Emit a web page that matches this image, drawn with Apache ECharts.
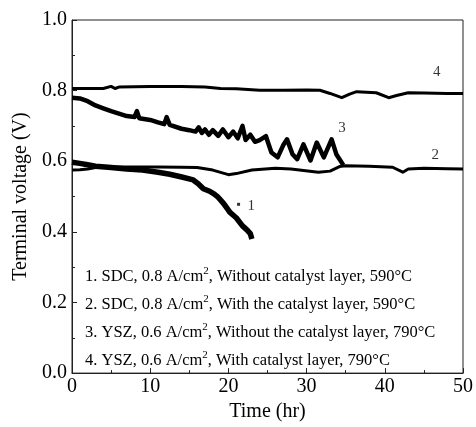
<!DOCTYPE html>
<html>
<head>
<meta charset="utf-8">
<script src="https://cdn.jsdelivr.net/npm/echarts@6/dist/echarts.min.js"></script>
<style>
html,body{margin:0;padding:0;background:#fff;}
#c{width:476px;height:427px;}
</style>
</head>
<body>
<div id="c"></div>
<script>
// Curve 1: SDC, 0.8 A/cm2, without catalyst layer, 590°C  [time (hr), voltage (V)]
var curve1 = [[0,0.597],[1,0.594],[2,0.590],[3,0.586],[5,0.582],[7,0.578],[9,0.575],[11,0.569],[12.5,0.563],[13.9,0.556],[15.5,0.547],[16.2,0.535],[16.8,0.522],[17.6,0.515],[18.2,0.507],[18.6,0.500],[19.4,0.480],[20.2,0.455],[21.0,0.440],[21.8,0.417],[22.4,0.405],[22.8,0.395],[23.0,0.380]];
var curve1Outlier = [[21.3,0.478]];
// Curve 2: SDC, 0.8 A/cm2, with the catalyst layer, 590°C
var curve2 = [[0,0.575],[1,0.576],[2,0.578],[3,0.582],[5,0.584],[8,0.584],[11,0.584],[14,0.583],[16,0.582],[18,0.575],[20,0.562],[21,0.565],[23,0.575],[26,0.580],[28,0.578],[31.5,0.569],[33,0.572],[34.2,0.585],[35,0.587],[38,0.586],[41,0.583],[42.3,0.569],[43,0.578],[45,0.580],[48,0.579],[50,0.578]];
// Curve 3: YSZ, 0.6 A/cm2, without the catalyst layer, 790°C
var curve3 = [[0,0.780],[1,0.778],[2,0.770],[3,0.758],[4,0.750],[5,0.742],[6,0.735],[7,0.728],[8,0.725],[8.3,0.742],[8.6,0.722],[10,0.717],[11,0.710],[11.8,0.705],[12.1,0.725],[12.5,0.703],[14,0.692],[15,0.688],[15.8,0.684],[16.2,0.696],[16.6,0.680],[17,0.690],[17.5,0.675],[18,0.688],[18.7,0.672],[19.3,0.690],[20,0.668],[20.6,0.684],[21.2,0.665],[21.8,0.700],[22.2,0.660],[22.8,0.675],[23.4,0.655],[24,0.660],[24.8,0.671],[25.5,0.625],[26.3,0.611],[27,0.645],[27.5,0.662],[28.2,0.620],[28.8,0.606],[29.6,0.648],[30.5,0.602],[31.3,0.653],[32.2,0.611],[33.2,0.662],[33.8,0.620],[34.7,0.589]];
// Curve 4: YSZ, 0.6 A/cm2, with catalyst layer, 790°C
var curve4 = [[0,0.806],[2,0.806],[4,0.806],[5,0.812],[5.5,0.806],[6,0.810],[8,0.811],[10,0.812],[14,0.812],[17,0.810],[19,0.806],[21,0.805],[24,0.801],[27,0.801],[30,0.802],[31.7,0.801],[33,0.792],[34.5,0.780],[35.5,0.790],[36.4,0.797],[38.9,0.794],[40.5,0.780],[41.5,0.786],[43,0.794],[45,0.793],[48,0.792],[50,0.792]];
// Curve number labels [time, voltage, text]
var curveLabels = [[23.0,0.472,'1'],[46.5,0.617,'2'],[34.6,0.692,'3'],[46.7,0.850,'4']];
var legendLines = [
  '1. SDC, 0.8 A/cm{s|2}, Without catalyst layer, 590°C',
  '2. SDC, 0.8 A/cm{s|2}, With the catalyst layer, 590°C',
  '3. YSZ, 0.6 A/cm{s|2}, Without the catalyst layer, 790°C',
  '4. YSZ, 0.6 A/cm{s|2}, With catalyst layer, 790°C'
];
var xTicks = {min:0, max:50, interval:10};
var yTicks = {min:0, max:1.0, interval:0.2};

var FONT = '"Liberation Serif","DejaVu Serif",serif';
var chart = echarts.init(document.getElementById('c'), null, {renderer:'canvas'});

function lineSeries(data, w){
  return {type:'line', data:data, symbol:'none', showSymbol:false, animation:false,
    lineStyle:{color:'#000', width:w, join:'round'}, z:3};
}
var graphics = legendLines.map(function(t,i){
  return {type:'text', left:85, top:266 + i*28, z:10,
    style:{text:t, fill:'#000', font:'16.5px '+FONT,
      rich:{s:{fontSize:11, fontFamily:'Liberation Serif', verticalAlign:'top', lineHeight:21, fill:'#000'}}}};
});

chart.setOption({
  backgroundColor:'#fff',
  animation:false,
  grid:{left:72, right:8, top:20, bottom:47, show:true, borderColor:'#222', borderWidth:1, backgroundColor:'transparent'},
  xAxis:{type:'value', min:xTicks.min, max:xTicks.max, interval:xTicks.interval,
    name:'Time (hr)', nameLocation:'middle', nameGap:22,
    nameTextStyle:{fontFamily:FONT, fontSize:20, color:'#000'},
    axisLine:{lineStyle:{color:'#222', width:1}},
    axisTick:{inside:true, length:5, lineStyle:{color:'#222'}},
    minorTick:{show:true, splitNumber:2, length:3, lineStyle:{color:'#222'}},
    splitLine:{show:false},
    axisLabel:{fontFamily:FONT, fontSize:20, color:'#000', margin:4}},
  yAxis:{type:'value', min:yTicks.min, max:yTicks.max, interval:yTicks.interval,
    name:'Terminal voltage (V)', nameLocation:'middle', nameGap:37,
    nameTextStyle:{fontFamily:FONT, fontSize:20, color:'#000'},
    axisLine:{show:true, lineStyle:{color:'#222', width:1}},
    axisTick:{inside:true, length:5, lineStyle:{color:'#222'}},
    minorTick:{show:true, splitNumber:2, length:3, lineStyle:{color:'#222'}},
    splitLine:{show:false},
    axisLabel:{fontFamily:FONT, fontSize:20, color:'#000', margin:5,
      formatter:function(v){return v.toFixed(1);}}},
  graphic:graphics,
  series:[
    lineSeries(curve4, 3),
    lineSeries(curve3, 4.5),
    lineSeries(curve2, 3),
    lineSeries(curve1, 5.5),
    {type:'scatter', data:curve1Outlier, symbol:'rect', symbolSize:3, itemStyle:{color:'#000'}, animation:false, z:4},
    {type:'scatter', data:curveLabels.map(function(d){return {value:[d[0],d[1]], name:d[2]};}),
      symbolSize:1, itemStyle:{color:'transparent'}, animation:false, silent:true,
      label:{show:true, position:[0,0], align:'center', verticalAlign:'middle', formatter:'{b}',
        fontFamily:FONT, fontSize:15, color:'#000', textBorderWidth:0}}
  ]
});
</script>
</body>
</html>
